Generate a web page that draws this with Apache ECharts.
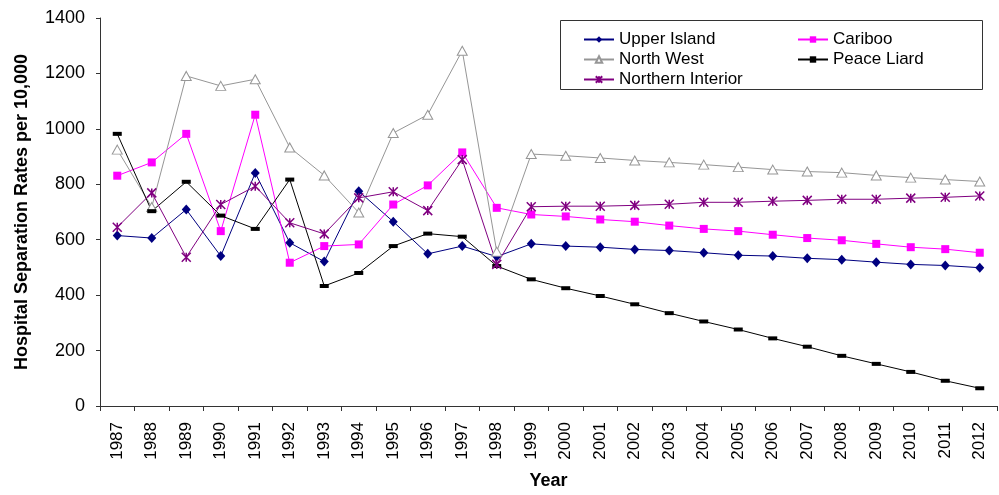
<!DOCTYPE html>
<html><head><meta charset="utf-8">
<script src="https://cdn.jsdelivr.net/npm/echarts@6/dist/echarts.min.js"></script>
<style>html,body{margin:0;padding:0;background:#fff}#c{width:999px;height:495px}</style>
</head><body><div id="c"></div>
<script>
const years = ['1987','1988','1989','1990','1991','1992','1993','1994','1995','1996','1997','1998','1999','2000','2001','2002','2003','2004','2005','2006','2007','2008','2009','2010','2011','2012'];
const upperIsland = [615,606,709,541,841,589,521,775,665,549,577,539,585,577,573,565,561,553,544,541,533,528,519,511,507,499];
const cariboo = [831,879,982,631,1051,517,577,583,727,796,915,715,691,684,673,665,651,639,631,618,606,598,585,573,566,553];
const northWest = [925,718,1191,1155,1179,933,832,698,985,1051,1282,557,909,903,895,886,879,871,862,853,846,842,832,824,817,810];
const peaceLiard = [982,703,809,687,639,817,433,480,577,622,611,505,457,425,397,367,335,305,276,244,214,181,152,123,91,64];
const northernInterior = [645,769,537,727,793,661,621,751,773,705,889,511,719,721,721,724,728,735,735,739,742,746,746,750,753,758];
const yTicks = [0,200,400,600,800,1000,1200,1400];

const chart = echarts.init(document.getElementById('c'), null, {renderer:'canvas'});
const FONT = 'Liberation Sans, Arial, sans-serif';
const star = 'path://M0,0L10,10M10,0L0,10M5,0L5,10';
function legendAt(name, left, top){
  return {data:[name], left:left, top:top, itemWidth:30, itemHeight:8, itemGap:0,
    textStyle:{fontFamily:FONT,fontSize:17,color:'#000',padding:[0,0,0,0]}, selectedMode:false};
}
chart.setOption({
  animation:false,
  backgroundColor:'#fff',
  grid:{left:100,right:2,top:18,bottom:87},
  graphic:[{type:'rect',shape:{x:560.5,y:20.5,width:422,height:69},style:{fill:'none',stroke:'#333',lineWidth:1}}],
  legend:[
    legendAt('Upper Island',578,26),
    legendAt('Cariboo',792,26),
    legendAt('North West',578,46),
    legendAt('Peace Liard',792,46),
    legendAt('Northern Interior',578,66)
  ],
  xAxis:{type:'category',data:years,boundaryGap:true,
    axisLine:{lineStyle:{color:'#333',width:1}},
    axisTick:{show:true,length:5,lineStyle:{color:'#333'}},
    axisLabel:{rotate:90,fontFamily:FONT,fontSize:17,color:'#000',margin:16},
    name:'Year',nameLocation:'middle',nameGap:66,
    nameTextStyle:{fontFamily:FONT,fontSize:18,fontWeight:'bold',color:'#000'}},
  yAxis:{type:'value',min:0,max:1400,interval:200,
    axisLine:{show:true,lineStyle:{color:'#333',width:1}},
    axisTick:{show:true,length:4,lineStyle:{color:'#333'}},
    splitLine:{show:false},
    axisLabel:{fontFamily:FONT,fontSize:18,color:'#000',margin:15,
      formatter:v=>yTicks.includes(v)?String(v):''},
    name:'Hospital Separation Rates per 10,000',nameLocation:'middle',nameGap:69,
    nameTextStyle:{fontFamily:FONT,fontSize:18,fontWeight:'bold',color:'#000'}},
  series:[
    {name:'Upper Island',type:'line',data:upperIsland,symbol:'diamond',symbolSize:[9,10],
      lineStyle:{color:'#000080',width:1},itemStyle:{color:'#000080'}},
    {name:'Cariboo',type:'line',data:cariboo,symbol:'rect',symbolSize:8,
      lineStyle:{color:'#ff00ff',width:1},itemStyle:{color:'#ff00ff'}},
    {name:'North West',type:'line',data:northWest,symbol:'triangle',symbolSize:[10,9],
      lineStyle:{color:'#969696',width:1},itemStyle:{color:'#fff',borderColor:'#969696',borderWidth:1}},
    {name:'Peace Liard',type:'line',data:peaceLiard,symbol:'rect',symbolSize:[9,4],
      lineStyle:{color:'#000',width:1},itemStyle:{color:'#000'}},
    {name:'Northern Interior',type:'line',data:northernInterior,symbol:star,symbolSize:9,
      lineStyle:{color:'#800080',width:1},itemStyle:{color:'none',borderColor:'#800080',borderWidth:1.5}}
  ]
});
</script></body></html>
